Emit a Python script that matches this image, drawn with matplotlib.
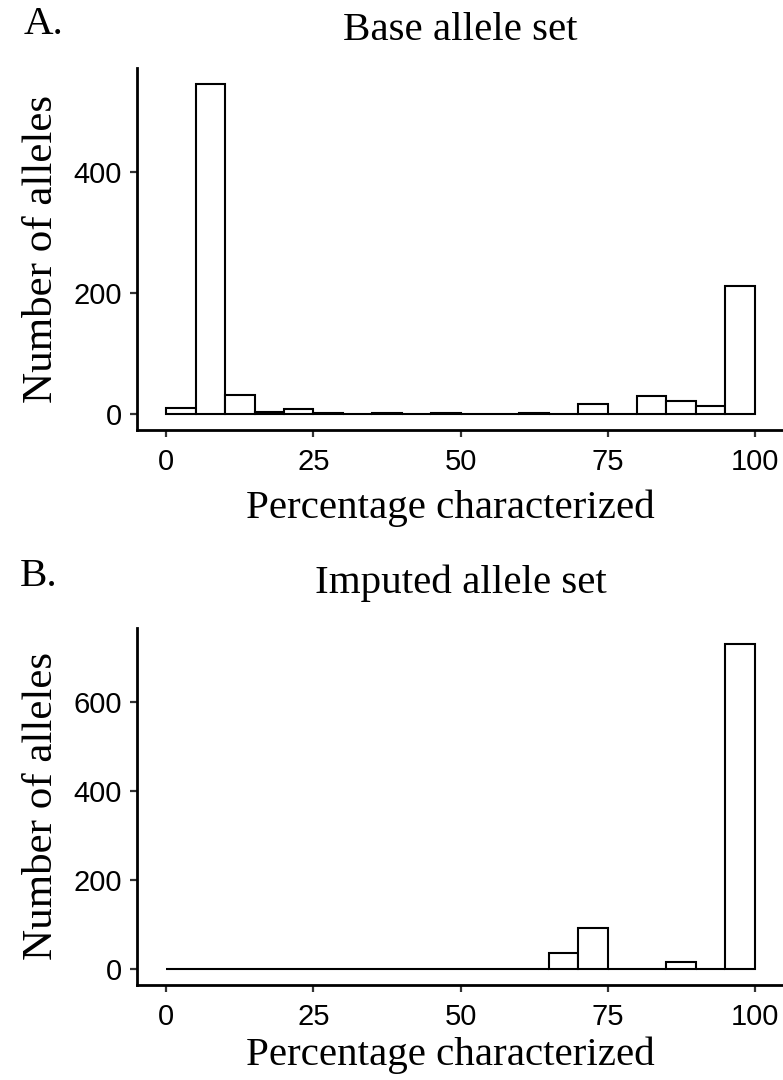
import numpy as np
import matplotlib
matplotlib.use('Agg')
import matplotlib.pyplot as plt

# histogram bins: 5-point bins from 0 to 100
bin_starts = [0, 5, 10, 15, 20, 25, 30, 35, 40, 45,
              50, 55, 60, 65, 70, 75, 80, 85, 90, 95]
base_counts = [9, 544, 31, 2, 7, 1, 0, 1, 0, 1,
               0, 0, 1, 0, 15, 0, 29, 21, 12, 211]
imputed_counts = [0, 0, 0, 0, 0, 0, 0, 0, 0, 0,
                  0, 0, 0, 36, 92, 0, 0, 16, 0, 730]

x_ticks = [0, 25, 50, 75, 100]
base_yticks = [0, 200, 400]
imputed_yticks = [0, 200, 400, 600]

serif = 'Liberation Serif'
sans = 'Liberation Sans'

fig = plt.figure(figsize=(7.83, 10.8), dpi=100)
W, H = 783, 1080


def panel(rect_px, counts, yticks, title, title_y, letter, letter_xy, xpad):
    left, top, right, bottom = rect_px
    ax = fig.add_axes([left / W, 1 - bottom / H, (right - left) / W, (bottom - top) / H])
    ax.bar(bin_starts, counts, width=5, align='edge', facecolor='white',
           edgecolor='black', linewidth=1.5)
    ymax = max(counts)
    ax.set_xlim(-5, 105)
    ax.set_ylim(-0.05 * ymax, 1.05 * ymax)
    ax.set_xticks(x_ticks)
    ax.set_yticks(yticks)
    for s in ['top', 'right']:
        ax.spines[s].set_visible(False)
    for s in ['left', 'bottom']:
        ax.spines[s].set_linewidth(2.0)
    ax.tick_params(length=5, width=1.6, color='#333333', labelsize=21)
    ax.tick_params(axis='x', pad=8)
    ax.tick_params(axis='y', pad=6)
    for lab in ax.get_xticklabels() + ax.get_yticklabels():
        lab.set_fontfamily(sans)
    ax.set_xlabel('Percentage characterized', fontsize=29.5, family=serif, labelpad=xpad,
                  x=(450 - left) / (right - left))
    ax.set_ylabel('Number of alleles', fontsize=31, family=serif, labelpad=9)
    fig.text(460.5 / W, 1 - title_y / H, title, fontsize=29.5, family=serif,
             ha='center', va='center')
    fig.text(letter_xy[0] / W, 1 - letter_xy[1] / H, letter, fontsize=29.5,
             family=serif, va='center', ha='left')
    return ax


panel((137, 68, 784, 430), base_counts, base_yticks, 'Base allele set', 31, 'A.', (24, 25), 10)
panel((137, 628, 784, 985), imputed_counts, imputed_yticks, 'Imputed allele set', 583, 'B.', (20, 577), 4)

fig.savefig('out.png', dpi=100)
